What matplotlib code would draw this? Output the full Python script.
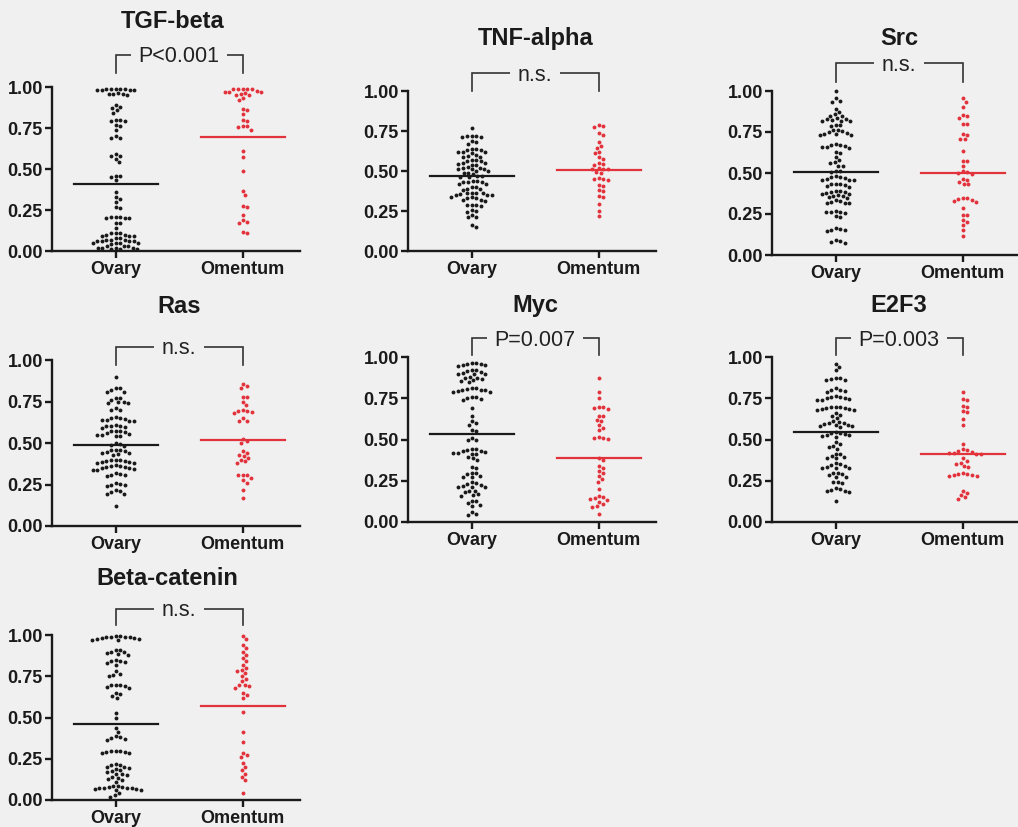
import numpy as np
import matplotlib
matplotlib.use('Agg')
import matplotlib.pyplot as plt

plt.rcParams['font.family'] = ['Liberation Sans', 'DejaVu Sans']

# ---------------- data ----------------
genes = ["TGF-beta", "TNF-alpha", "Src", "Ras", "Myc", "E2F3", "Beta-catenin"]
groups = ["Ovary", "Omentum"]
pvalue_labels = ["P<0.001", "n.s.", "n.s.", "n.s.", "P=0.007", "P=0.003", "n.s."]
ytick_values = [0.00, 0.25, 0.50, 0.75, 1.00]

tgf_ovary = [0.99, 0.99, 0.99, 0.985, 0.985, 0.98, 0.98, 0.98, 0.98,
             0.965, 0.96, 0.96, 0.96, 0.95,
             0.89, 0.88, 0.87, 0.86, 0.84,
             0.80, 0.80, 0.79, 0.79, 0.77, 0.76, 0.74,
             0.70, 0.69, 0.69, 0.59, 0.58, 0.58, 0.56, 0.54,
             0.46, 0.46, 0.45, 0.43, 0.36, 0.33, 0.32, 0.30, 0.27, 0.26,
             0.21, 0.21, 0.20, 0.20, 0.20, 0.21, 0.17, 0.17, 0.14,
             0.11, 0.11, 0.11, 0.10, 0.10, 0.09, 0.09, 0.09, 0.08, 0.08,
             0.07, 0.07, 0.07, 0.06, 0.06, 0.06, 0.06, 0.05, 0.05, 0.05, 0.05, 0.04,
             0.03, 0.03, 0.03, 0.02, 0.02, 0.02, 0.02, 0.01, 0.01, 0.01]
tgf_omentum = [0.99, 0.99, 0.99, 0.985, 0.985, 0.975, 0.97, 0.97, 0.97, 0.965,
               0.955, 0.95, 0.95, 0.93, 0.92,
               0.865, 0.86, 0.835, 0.80, 0.79, 0.76, 0.76, 0.755, 0.74,
               0.61, 0.575, 0.49, 0.365, 0.34, 0.275, 0.27, 0.22, 0.19,
               0.175, 0.17, 0.115, 0.11]

tnf_ovary = [0.77, 0.72, 0.72, 0.72, 0.71, 0.71, 0.69, 0.68, 0.67,
             0.64, 0.64, 0.63, 0.63, 0.62, 0.62, 0.62, 0.61,
             0.595, 0.59, 0.59, 0.60,
             0.57, 0.57, 0.56, 0.56, 0.55, 0.55, 0.545, 0.54, 0.54,
             0.525, 0.52, 0.52, 0.515, 0.51, 0.51, 0.50, 0.50,
             0.49, 0.485, 0.48, 0.47, 0.47, 0.465, 0.46,
             0.43, 0.43, 0.43, 0.42, 0.42, 0.44, 0.44,
             0.40, 0.40, 0.39, 0.385, 0.38,
             0.365, 0.36, 0.36, 0.36, 0.355, 0.35, 0.35, 0.35,
             0.34, 0.335, 0.33, 0.33, 0.32, 0.32, 0.315,
             0.29, 0.29, 0.285, 0.28, 0.255, 0.25, 0.245,
             0.225, 0.215, 0.21, 0.165, 0.15]
tnf_omentum = [0.785, 0.78, 0.775, 0.735, 0.725, 0.68, 0.655, 0.645, 0.62, 0.61,
               0.585, 0.575, 0.55, 0.545, 0.54, 0.52, 0.515, 0.515, 0.51,
               0.495, 0.485, 0.455, 0.45, 0.45, 0.445, 0.41, 0.405,
               0.38, 0.375, 0.345, 0.335, 0.295, 0.25, 0.22]

src_ovary = [1.00, 0.955, 0.94, 0.935, 0.89, 0.87, 0.86, 0.85, 0.85,
             0.835, 0.83, 0.83, 0.825, 0.82, 0.82, 0.815, 0.79, 0.79, 0.785,
             0.765, 0.76, 0.755, 0.75, 0.745, 0.74, 0.735, 0.73, 0.73,
             0.675, 0.67, 0.67, 0.665, 0.66, 0.66, 0.655, 0.63, 0.625,
             0.60, 0.58, 0.565, 0.56, 0.545, 0.54, 0.515, 0.51, 0.505,
             0.48, 0.475, 0.475, 0.47, 0.465, 0.46, 0.46, 0.455,
             0.435, 0.43, 0.43, 0.425, 0.42, 0.415,
             0.39, 0.39, 0.385, 0.385, 0.38, 0.375, 0.37, 0.365, 0.36, 0.36, 0.355, 0.35,
             0.335, 0.33, 0.325, 0.32, 0.32, 0.315,
             0.27, 0.265, 0.26, 0.26, 0.255, 0.235, 0.23,
             0.165, 0.16, 0.155, 0.15, 0.145, 0.09, 0.085, 0.08, 0.075]
src_omentum = [0.955, 0.935, 0.905, 0.855, 0.845, 0.835, 0.80, 0.80,
               0.735, 0.73, 0.71, 0.705, 0.635, 0.575, 0.575, 0.54,
               0.51, 0.505, 0.50, 0.495, 0.465, 0.46, 0.445, 0.435, 0.43,
               0.35, 0.345, 0.34, 0.335, 0.33, 0.325, 0.285, 0.245, 0.245,
               0.215, 0.20, 0.18, 0.15, 0.115]

ras_ovary = [0.90, 0.83, 0.83, 0.82, 0.81, 0.81,
             0.77, 0.77, 0.76, 0.75, 0.745, 0.74, 0.74, 0.71, 0.70, 0.70,
             0.655, 0.65, 0.65, 0.645, 0.64, 0.64, 0.635, 0.635,
             0.61, 0.605, 0.60, 0.60, 0.595, 0.59,
             0.575, 0.57, 0.57, 0.565, 0.56, 0.555, 0.55, 0.55, 0.545, 0.54,
             0.50, 0.495, 0.49, 0.48,
             0.46, 0.46, 0.455, 0.45, 0.445, 0.44, 0.44, 0.435, 0.43,
             0.40, 0.40, 0.395, 0.39, 0.39, 0.385, 0.385, 0.38, 0.38,
             0.365, 0.36, 0.36, 0.355, 0.355, 0.35, 0.35, 0.345, 0.34, 0.34,
             0.32, 0.315, 0.31, 0.305, 0.30,
             0.26, 0.255, 0.25, 0.245, 0.24, 0.215, 0.21, 0.205, 0.195, 0.19, 0.12]
ras_omentum = [0.855, 0.845, 0.83, 0.78, 0.775, 0.75, 0.73,
               0.70, 0.695, 0.69, 0.685, 0.68, 0.65, 0.635, 0.63,
               0.525, 0.515, 0.50, 0.45, 0.44, 0.43, 0.42, 0.41, 0.40, 0.39, 0.38,
               0.31, 0.31, 0.305, 0.29, 0.275, 0.26, 0.215, 0.17]

myc_ovary = [0.965, 0.965, 0.96, 0.955, 0.95, 0.95, 0.945,
             0.92, 0.92, 0.915, 0.91, 0.905, 0.90, 0.90, 0.895,
             0.88, 0.875, 0.87, 0.865, 0.86, 0.855, 0.85,
             0.81, 0.81, 0.805, 0.80, 0.80, 0.80, 0.795, 0.79, 0.79,
             0.76, 0.755, 0.75, 0.745, 0.74, 0.69, 0.64, 0.61, 0.60, 0.585,
             0.555, 0.55, 0.51, 0.50, 0.495,
             0.445, 0.44, 0.435, 0.43, 0.43, 0.425, 0.42, 0.42, 0.415, 0.41,
             0.395, 0.385, 0.375, 0.335, 0.33,
             0.30, 0.295, 0.29, 0.28, 0.275, 0.27,
             0.24, 0.235, 0.23, 0.225, 0.22, 0.215, 0.21, 0.21,
             0.19, 0.185, 0.18, 0.17, 0.165, 0.16,
             0.13, 0.125, 0.115, 0.105, 0.10, 0.06, 0.05, 0.04]
myc_omentum = [0.87, 0.79, 0.75, 0.70, 0.695, 0.69, 0.685, 0.645, 0.64, 0.62, 0.615,
               0.585, 0.57, 0.555, 0.515, 0.51, 0.51, 0.505, 0.385, 0.375,
               0.34, 0.33, 0.31, 0.30, 0.28, 0.26, 0.245, 0.20,
               0.16, 0.15, 0.145, 0.14, 0.135, 0.12, 0.11, 0.095, 0.09, 0.05]

e2f3_ovary = [0.96, 0.94, 0.92, 0.87, 0.87, 0.865, 0.86, 0.86,
              0.81, 0.80, 0.80, 0.795, 0.79,
              0.765, 0.76, 0.755, 0.75, 0.75, 0.745, 0.74, 0.74,
              0.70, 0.70, 0.695, 0.69, 0.69, 0.685, 0.685, 0.68, 0.68,
              0.66, 0.65, 0.64, 0.63,
              0.61, 0.605, 0.60, 0.60, 0.595, 0.59, 0.585, 0.58, 0.58, 0.575,
              0.545, 0.54, 0.54, 0.535, 0.53, 0.525, 0.52, 0.515,
              0.485, 0.47, 0.46, 0.455, 0.445,
              0.415, 0.41, 0.40, 0.395, 0.39, 0.385,
              0.355, 0.35, 0.345, 0.34, 0.335, 0.33, 0.33, 0.325,
              0.30, 0.295, 0.29, 0.285, 0.275, 0.27, 0.245, 0.24, 0.235,
              0.205, 0.20, 0.195, 0.19, 0.185, 0.18, 0.125]
e2f3_omentum = [0.79, 0.745, 0.74, 0.705, 0.70, 0.67, 0.665, 0.625, 0.59, 0.47,
                0.44, 0.435, 0.43, 0.425, 0.42, 0.42, 0.415, 0.415,
                0.385, 0.37, 0.36, 0.35, 0.34, 0.335,
                0.295, 0.29, 0.29, 0.285, 0.285, 0.28, 0.28,
                0.19, 0.175, 0.165, 0.15, 0.14]

bcat_ovary = [0.995, 0.995, 0.99, 0.99, 0.985, 0.985, 0.98, 0.98, 0.975, 0.975, 0.97, 0.97,
              0.91, 0.91, 0.90, 0.895, 0.89, 0.885, 0.88,
              0.85, 0.845, 0.84, 0.835, 0.83, 0.82, 0.78, 0.765, 0.755, 0.75,
              0.70, 0.70, 0.695, 0.69, 0.685, 0.68, 0.65, 0.64, 0.63, 0.62,
              0.53, 0.50, 0.435, 0.41, 0.385, 0.38, 0.375, 0.37, 0.365,
              0.30, 0.30, 0.295, 0.29, 0.29, 0.285, 0.285,
              0.22, 0.215, 0.21, 0.20, 0.20, 0.195, 0.19,
              0.18, 0.175, 0.17, 0.16, 0.155, 0.15, 0.14, 0.135, 0.13, 0.12, 0.11,
              0.085, 0.085, 0.08, 0.08, 0.075, 0.075, 0.07, 0.07, 0.065, 0.065, 0.06, 0.06,
              0.04, 0.03, 0.02]
bcat_omentum = [0.995, 0.975, 0.94, 0.92, 0.90, 0.88, 0.86, 0.84,
                0.82, 0.80, 0.79, 0.78, 0.77, 0.75, 0.735, 0.72,
                0.70, 0.695, 0.69, 0.68, 0.65, 0.635, 0.62, 0.535,
                0.41, 0.35, 0.285, 0.275, 0.26, 0.225, 0.20, 0.18,
                0.16, 0.14, 0.12, 0.04]

ovary_data = [tgf_ovary, tnf_ovary, src_ovary, ras_ovary, myc_ovary, e2f3_ovary, bcat_ovary]
omentum_data = [tgf_omentum, tnf_omentum, src_omentum, ras_omentum, myc_omentum, e2f3_omentum, bcat_omentum]
ovary_line = [0.41, 0.47, 0.505, 0.49, 0.532, 0.545, 0.462]
omentum_line = [0.695, 0.507, 0.50, 0.517, 0.39, 0.414, 0.57]

# ---------------- layout (pixels) ----------------
W, H = 1018, 827
BG = '#f0f0f0'
BLACK = '#1a1a1a'
RED = '#e2323b'
# (left x of y-axis, y of 1.00, y of 0.00)
panel_px = [(52, 87, 251), (408, 91, 251), (772, 91, 255),
            (52, 360, 526), (408, 357, 522), (772, 357, 522),
            (52, 635, 800)]
AX_W = 248
XLIM = (-0.5, 1.45)
bracket_y = [(1.195, 1.085), (1.11, 1.0), (1.17, 1.055), (1.08, 0.97),
             (1.115, 1.01), (1.115, 1.01), (1.16, 1.06)]
title_pos = [(0.45, 1.40), (0.5, 1.33), (0.5, 1.32), (0.5, 1.32),
             (0.5, 1.315), (0.5, 1.315), (0.41, 1.345)]


def swarm_offsets(vals, ppx, ppy, d):
    vals = np.asarray(vals, float)
    order = np.argsort(-vals, kind='stable')
    px, py = [], []
    out = np.zeros(len(vals))
    for i in order:
        y = vals[i] * ppy
        intervals = []
        for xj, yj in zip(px, py):
            dy = abs(y - yj)
            if dy < d:
                w = np.sqrt(d * d - dy * dy)
                intervals.append((xj - w, xj + w))
        cands = [0.0] + [a for a, b in intervals] + [b for a, b in intervals]
        cands.sort(key=lambda c: (round(abs(c), 6), -c))
        for c in cands:
            if all(not (a + 1e-6 < c < b - 1e-6) for a, b in intervals):
                out[i] = c
                break
        px.append(out[i])
        py.append(y)
    return out / ppx


fig = plt.figure(figsize=(W / 100, H / 100), dpi=100, facecolor=BG)

for k, gene in enumerate(genes):
    L, T, B = panel_px[k]
    ax = fig.add_axes([L / W, 1 - B / H, AX_W / W, (B - T) / H])
    ax.set_facecolor(BG)
    ax.set_xlim(*XLIM)
    ax.set_ylim(0, 1.0)
    ppx = AX_W / (XLIM[1] - XLIM[0])
    ppy = (B - T) / 1.0
    for gi, (vals, line_v, col) in enumerate([(ovary_data[k], ovary_line[k], BLACK),
                                              (omentum_data[k], omentum_line[k], RED)]):
        xo = swarm_offsets(vals, ppx, ppy, 4.7)
        ax.plot(gi + xo, vals, 'o', ms=2.8, color=col, mec='none', clip_on=False, zorder=3)
        ax.plot([gi - 0.33, gi + 0.33], [line_v, line_v], color=(BLACK if gi == 0 else RED),
                lw=1.6, clip_on=False, zorder=4)
    for s in ['top', 'right']:
        ax.spines[s].set_visible(False)
    for s in ['left', 'bottom']:
        ax.spines[s].set_linewidth(1.7)
        ax.spines[s].set_color(BLACK)
    ax.set_yticks(ytick_values)
    ax.set_yticklabels([f"{v:.2f}" for v in ytick_values])
    ax.set_xticks([0, 1])
    ax.set_xticklabels(groups)
    ax.tick_params(axis='both', direction='out', length=5, width=1.7, color=BLACK,
                   labelsize=13, labelcolor=BLACK)
    ax.tick_params(axis='y', pad=1.5)
    ax.tick_params(axis='x', pad=2.5)
    for lab in ax.get_xticklabels() + ax.get_yticklabels():
        lab.set_fontweight('bold')
    top, bot = bracket_y[k]
    ax.plot([0, 0, 1, 1], [bot, top, top, bot], color='#333333', lw=1.2,
            clip_on=False, zorder=2, solid_joinstyle='miter')
    ax.text(0.5, top - 0.012, pvalue_labels[k], ha='center', va='center', fontsize=15.5,
            color='#222222', zorder=5,
            bbox=dict(boxstyle='square,pad=0.35', facecolor=BG, edgecolor='none'))
    tx, ty = title_pos[k]
    ax.text(tx, ty, gene, ha='center', va='center', fontsize=17, fontweight='bold',
            color=BLACK)

fig.savefig('out.png', dpi=100, facecolor=BG)
